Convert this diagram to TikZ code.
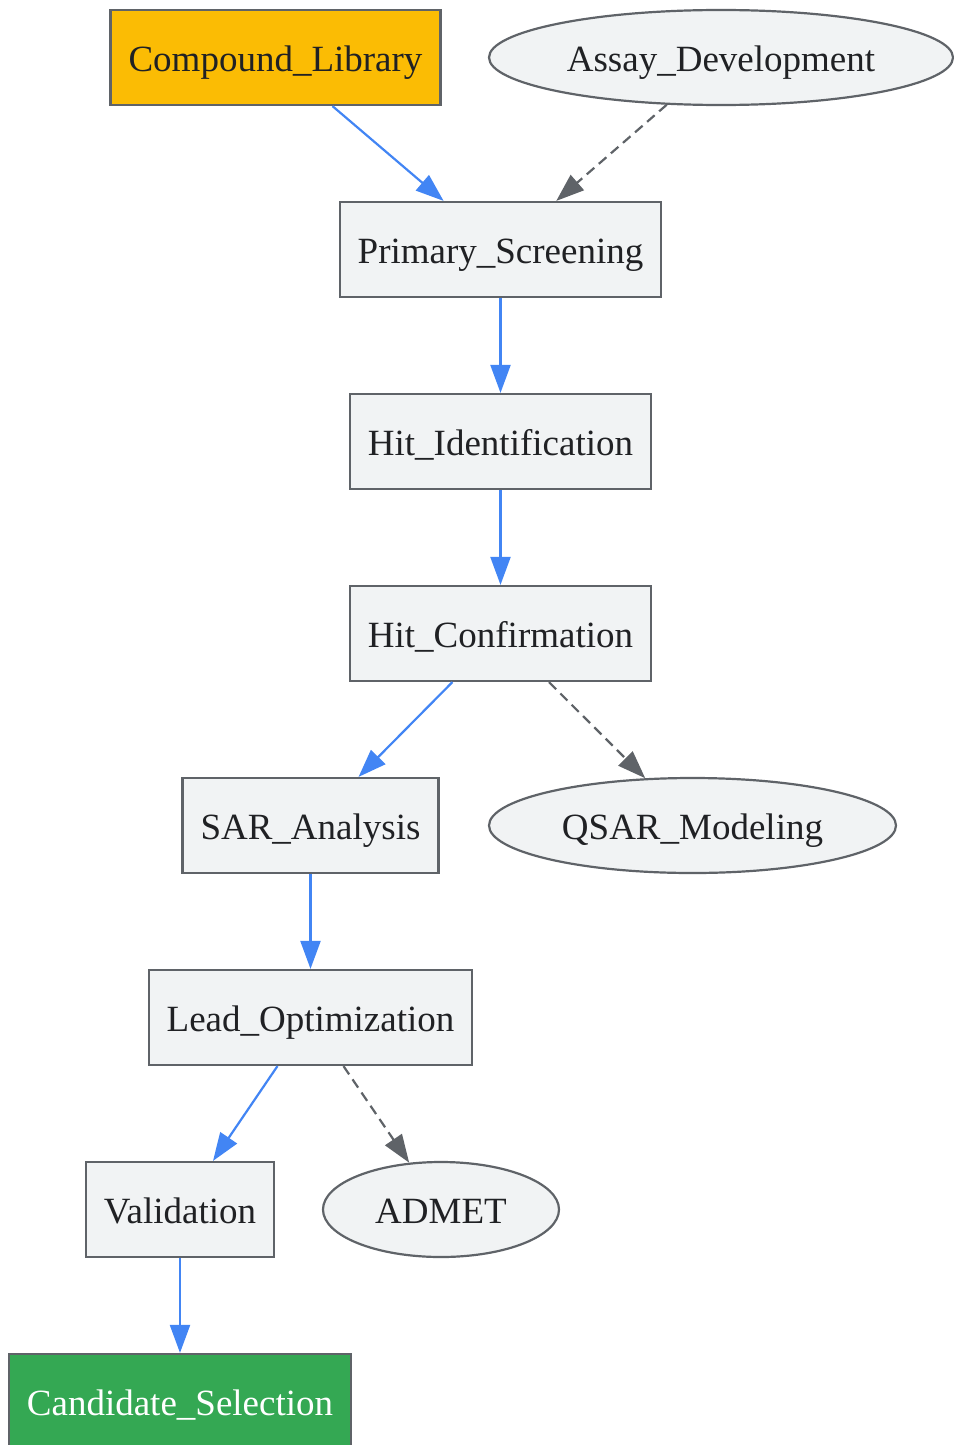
\documentclass[tikz,border=0pt]{standalone}
\usepackage{fontspec}
\setmainfont{Liberation Serif}
\usetikzlibrary{arrows.meta,shapes.geometric}
\definecolor{boxfill}{HTML}{F1F3F4}
\definecolor{edgegray}{HTML}{5F6368}
\definecolor{textdark}{HTML}{202124}
\definecolor{flowblue}{HTML}{4285F4}
\definecolor{libyellow}{HTML}{FBBC04}
\definecolor{candgreen}{HTML}{34A853}
\tikzset{
  stage/.style={draw=edgegray, fill=boxfill, line width=2.2pt, minimum height=95pt,
    inner xsep=18pt, text height=29pt, text depth=1pt, text=textdark,
    font=\fontsize{37}{44}\selectfont},
  aux/.style={stage, ellipse, inner xsep=0pt},
  flow/.style={draw=flowblue, line width=2.2pt, -{Triangle[length=28pt,width=20pt]}},
  side/.style={flow, draw=edgegray, dash pattern=on 10pt off 6pt}
}

\begin{document}
\begin{tikzpicture}[x=1pt,y=-1pt]
            \useasboundingbox (0,0) rectangle (953,1445);
            % nodes
            \node[stage, fill=libyellow] (library) at (275.5,57.5) {Compound\_Library};
            \node[aux, minimum width=464pt] (assay) at (721,57.5) {Assay\_Development};
            \node[stage] (primary) at (500.5,249.5) {Primary\_Screening};
            \node[stage] (hitid) at (500.5,441.5) {Hit\_Identification};
            \node[stage] (hitconf) at (500.5,633.5) {Hit\_Confirmation};
            \node[stage] (sar) at (310.5,825.5) {SAR\_Analysis};
            \node[aux, minimum width=407pt] (qsar) at (692.5,825.5) {QSAR\_Modeling};
            \node[stage] (lead) at (310.5,1017.5) {Lead\_Optimization};
            \node[stage] (valid) at (180,1209.5) {Validation};
            \node[aux, minimum width=236pt] (admet) at (441,1209.5) {ADMET};
            \node[stage, fill=candgreen, text=white] (cand) at (180,1401.5) {Candidate\_Selection};
            % edges
            \draw[flow] (library) -- (primary);
            \draw[side] (assay) -- (primary);
            \draw[flow] (primary) -- (hitid);
            \draw[flow] (hitid) -- (hitconf);
            \draw[flow] (hitconf) -- (sar);
            \draw[side] (hitconf) -- (qsar);
            \draw[flow] (sar) -- (lead);
            \draw[flow] (lead) -- (valid);
            \draw[side] (lead) -- (admet);
            \draw[flow] (valid) -- (cand);
        \end{tikzpicture}
\end{document}
